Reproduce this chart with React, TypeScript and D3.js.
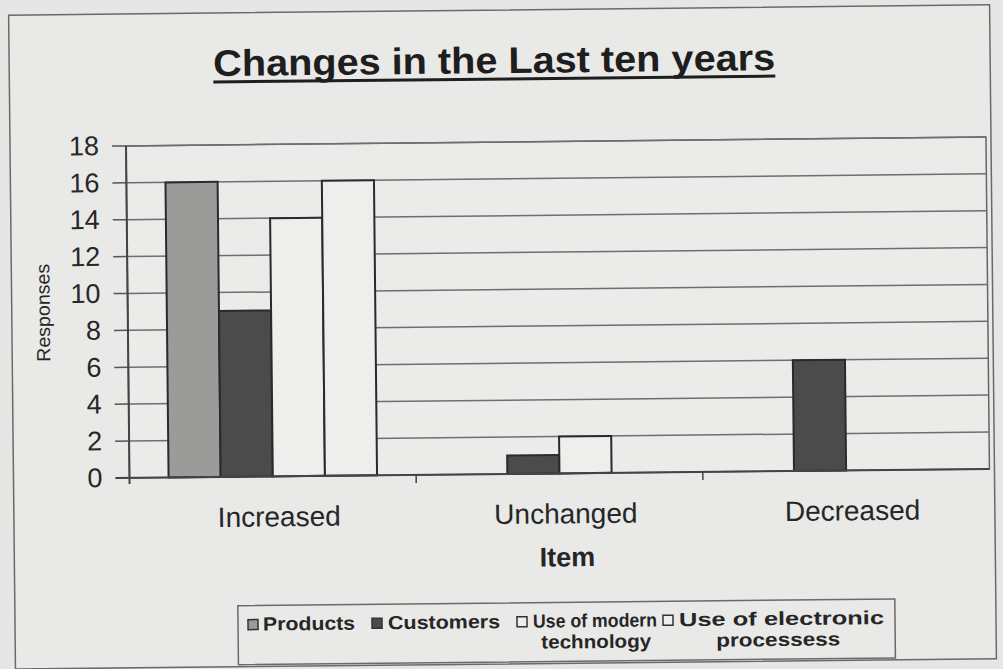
import React from "react";
import * as d3 from "d3";

const categories = ["Increased", "Unchanged", "Decreased"];
const seriesNames = ["Products", "Customers", "Use of modern technology", "Use of electronic processess"];
const products = [16, 0, 0];
const customers = [9, 1, 6];
const modernTech = [14, 2, 0];
const electronic = [16, 0, 0];
const yTicks = [0, 2, 4, 6, 8, 10, 12, 14, 16, 18];
const seriesValues = [products, customers, modernTech, electronic];
const seriesFill = ["#9b9b9a", "#4b4b4b", "#eeeeec", "#eeeeec"];

const W = 1003;
const H = 669;
const plot = { left: 128, right: 988, top: 142, bottom: 474 };
const font = "'Liberation Sans', Arial, sans-serif";

export default function App() {
  const x0 = d3.scaleBand<string>().domain(categories).range([plot.left, plot.right]);
  const x1 = d3
    .scaleBand<string>()
    .domain(seriesNames)
    .range([0, x0.bandwidth()])
    .paddingInner(0)
    .paddingOuter(0.75);
  const y = d3.scaleLinear().domain([0, 18]).range([plot.bottom, plot.top]);

  const legendItems = [
    { sq: 245, tx: 260, l1: "Products", w1: 92, fill: seriesFill[0] },
    { sq: 369, tx: 385, l1: "Customers", w1: 112, fill: seriesFill[1] },
    { sq: 514, tx: 530, l1: "Use of modern", w1: 124, l2: "technology", c2: 593, w2: 110, fill: seriesFill[2] },
    { sq: 660, tx: 676, l1: "Use of electronic", w1: 205, l2: "processess", c2: 775, w2: 124, fill: seriesFill[3] },
  ];

  return (
    <div style={{ position: "absolute", left: 0, top: 0 }}>
      <svg width={W} height={H} style={{ display: "block" }}>
        <rect x={0} y={0} width={W} height={H} fill="#e6e6e4" />
        <g transform="rotate(-0.6, 501, 334)">
          {/* outer chart border */}
          <rect x={12} y={10} width={981} height={654} fill="#e9e9e7" stroke="#6a6a6a" strokeWidth={1.5} />
          {/* title */}
          <text x={497} y={73} textAnchor="middle" fontFamily={font} fontWeight="bold" fontSize={37}
            textLength={562} lengthAdjust="spacingAndGlyphs" fill="#1e1e1e">
            Changes in the Last ten years
          </text>
          <line x1={216} x2={778} y1={79} y2={79} stroke="#1e1e1e" strokeWidth={3} />

          {/* plot area */}
          <rect x={plot.left} y={plot.top} width={plot.right - plot.left} height={plot.bottom - plot.top}
            fill="#ebebe9" stroke="#666" strokeWidth={1.5} />
          {yTicks.map((t) => (
            <g key={t}>
              {t > 0 && (
                <line x1={plot.left} x2={plot.right} y1={y(t)} y2={y(t)} stroke="#6e6e6e" strokeWidth={1.5} />
              )}
              <line x1={plot.left - 14} x2={plot.left} y1={y(t)} y2={y(t)} stroke="#555" strokeWidth={1.5} />
              <text x={101} y={y(t) + 9} textAnchor="end" fontFamily={font} fontSize={27} fill="#262626">
                {t}
              </text>
            </g>
          ))}
          {/* bars */}
          {categories.map((c, ci) => (
            <g key={c} transform={`translate(${x0(c)},0)`}>
              {seriesNames.map((s, si) => {
                const v = seriesValues[si][ci];
                if (!v) return null;
                return (
                  <rect key={s} x={x1(s)} y={y(v)} width={x1.bandwidth()} height={y(0) - y(v)}
                    fill={seriesFill[si]} stroke="#2a2a2a" strokeWidth={2} />
                );
              })}
            </g>
          ))}
          {/* axes */}
          <line x1={plot.left} x2={plot.left} y1={plot.top} y2={plot.bottom + 6} stroke="#444" strokeWidth={2} />
          <line x1={plot.left - 14} x2={plot.right} y1={plot.bottom} y2={plot.bottom} stroke="#444" strokeWidth={2} />
          {categories.slice(1).map((c) => (
            <line key={c} x1={x0(c)} x2={x0(c)} y1={plot.bottom} y2={plot.bottom + 8} stroke="#444" strokeWidth={1.5} />
          ))}
          {categories.map((c) => (
            <text key={c} x={(x0(c) as number) + x0.bandwidth() / 2 + 6} y={524} textAnchor="middle"
              fontFamily={font} fontSize={28} fill="#262626">
              {c}
            </text>
          ))}
          <text x={565} y={567} textAnchor="middle" fontFamily={font} fontWeight="bold" fontSize={27} fill="#262626">
            Item
          </text>
          <text transform="translate(50,308) rotate(-90)" textAnchor="middle" fontFamily={font} fontSize={19}
            fill="#262626" textLength={98} lengthAdjust="spacingAndGlyphs">
            Responses
          </text>

          {/* legend */}
          <rect x={235} y={603} width={657} height={59} fill="#e9e9e7" stroke="#6a6a6a" strokeWidth={1.5} />
          {legendItems.map((it, i) => (
            <g key={i}>
              <rect x={it.sq} y={617} width={10} height={10} fill={it.fill} stroke="#333" strokeWidth={1.5} />
              <text x={it.tx} y={628} fontFamily={font} fontWeight="bold" fontSize={19} fill="#262626"
                textLength={it.w1} lengthAdjust="spacingAndGlyphs">
                {it.l1}
              </text>
              {it.l2 && (
                <text x={it.c2} y={649} textAnchor="middle" fontFamily={font} fontWeight="bold" fontSize={19}
                  fill="#262626" textLength={it.w2} lengthAdjust="spacingAndGlyphs">
                  {it.l2}
                </text>
              )}
            </g>
          ))}
        </g>
      </svg>
    </div>
  );
}
